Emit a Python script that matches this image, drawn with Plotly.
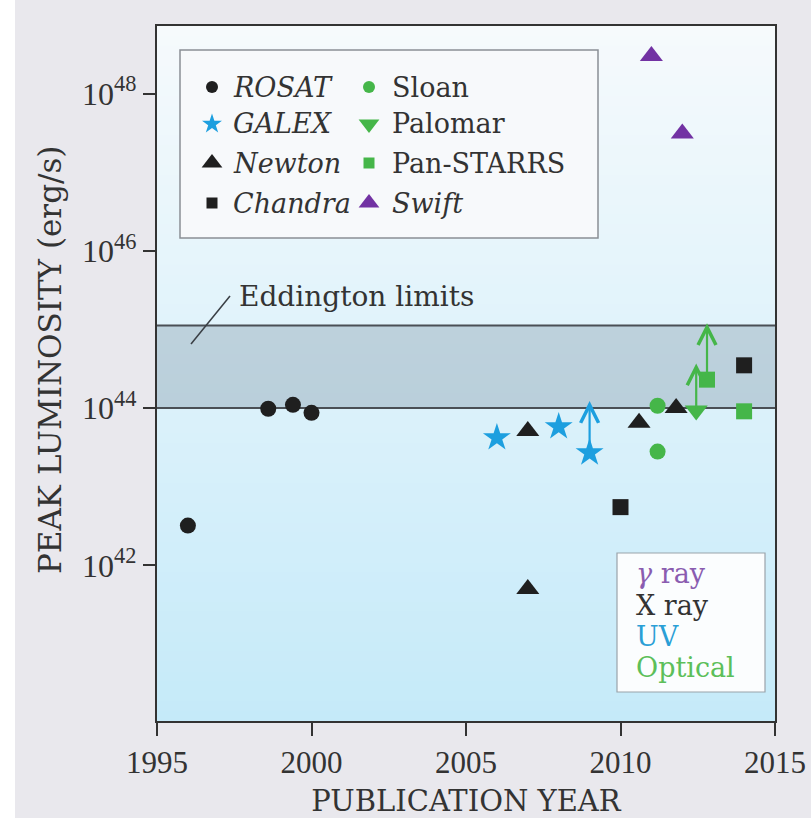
import math
import plotly.graph_objects as go

# ---- data: publication year and peak luminosity (erg/s) ----
rosat_year = [1996.0, 1998.6, 1999.4, 2000.0]
rosat_lum = [3.2e42, 9.8e43, 1.1e44, 8.7e43]

galex_year = [2006.0, 2008.0, 2009.0]
galex_lum = [4.2e43, 5.8e43, 2.7e43]

newton_year = [2007.0, 2007.0, 2010.6, 2011.8]
newton_lum = [5.1e43, 5.0e41, 6.5e43, 1.0e44]

chandra_year = [2010.0, 2014.0]
chandra_lum = [5.5e42, 3.5e44]

sloan_year = [2011.2, 2011.2]
sloan_lum = [1.07e44, 2.8e43]

palomar_year = [2012.45]
palomar_lum = [9.3e43]

panstarrs_year = [2012.8, 2014.0]
panstarrs_lum = [2.3e44, 9.1e43]

swift_year = [2011.0, 2012.0]
swift_lum = [3.0e48, 3.1e47]

# lower limits drawn as arrows: (year, measured value, arrow tip, band)
limit_year = [2009.0, 2012.45, 2012.8]
limit_from = [2.7e43, 9.3e43, 2.3e44]
limit_to = [1.23e44, 3.7e44, 1.2e45]
limit_band = ["UV", "Optical", "Optical"]

# Eddington-limit range
eddington_low = 1.0e44
eddington_high = 1.12e45

x_ticks = [1995, 2000, 2005, 2010, 2015]
y_ticks = [1e42, 1e44, 1e46, 1e48]
y_tick_text = ["10<sup>42</sup>", "10<sup>44</sup>", "10<sup>46</sup>", "10<sup>48</sup>"]

BLACK = "#1f1f1f"
BLUE = "#1d9fdf"
GREEN = "#45b649"
PURPLE = "#7232a3"
TEXT = "#333333"
FONT = "DejaVu Serif"
TICK_FONT = "Liberation Serif"
band_color = {"UV": BLUE, "Optical": GREEN}

# plot-area pixel geometry (811 x 818 canvas)
L, R, T, B = 157, 775, 26, 721
W, H = R - L, B - T


def px(x):
    return (x - L) / W


def py(y):
    return (B - y) / H


fig = go.Figure()

series = [
    (rosat_year, rosat_lum, "circle", BLACK, 16),
    (galex_year, galex_lum, "star", BLUE, 21),
    (newton_year, newton_lum, "triangle-up", BLACK, 20),
    (chandra_year, chandra_lum, "square", BLACK, 16),
    (sloan_year, sloan_lum, "circle", GREEN, 16),
    (palomar_year, palomar_lum, "triangle-down", GREEN, 20),
    (panstarrs_year, panstarrs_lum, "square", GREEN, 16),
    (swift_year, swift_lum, "triangle-up", PURPLE, 20),
]
for xs, ys, sym, col, size in series:
    fig.add_trace(go.Scatter(
        x=xs, y=ys, mode="markers", showlegend=False, hoverinfo="skip",
        marker=dict(symbol=sym, color=col, size=size, line=dict(width=0)),
    ))

# legend keys on an overlay axis spanning the plot area
legend_rows = [87, 124, 163, 203]
col1_keys = [("circle", BLACK, 12), ("star", BLUE, 15), ("triangle-up", BLACK, 18), ("square", BLACK, 11)]
col2_keys = [("circle", GREEN, 12), ("triangle-down", GREEN, 18), ("square", GREEN, 11), ("triangle-up", PURPLE, 18)]
col1_names = ["<i>ROSAT</i>", "<i>GALEX</i>", "<i>Newton</i>", "<i>Chandra</i>"]
col2_names = ["Sloan", "Palomar", "Pan-STARRS", "<i>Swift</i>"]
for kx, keys in ((212, col1_keys), (369, col2_keys)):
    for ry, (sym, col, size) in zip(legend_rows, keys):
        fig.add_trace(go.Scatter(
            x=[px(kx)], y=[py(ry)], xaxis="x2", yaxis="y2", mode="markers",
            showlegend=False, hoverinfo="skip",
            marker=dict(symbol=sym, color=col, size=size, line=dict(width=0)),
        ))

shapes = []
# soft vertical gradient behind the data
top_rgb = (246, 250, 252)
bot_rgb = (197, 234, 249)
n = 70
for i in range(n):
    t = (i + 0.5) / n
    c = tuple(round(bot_rgb[k] + (top_rgb[k] - bot_rgb[k]) * t) for k in range(3))
    shapes.append(dict(type="rect", xref="x domain", yref="y domain",
                       x0=0, x1=1, y0=i / n, y1=(i + 1) / n + 0.002,
                       fillcolor="rgb(%d,%d,%d)" % c, line=dict(width=0), layer="below"))
# Eddington band
shapes.append(dict(type="rect", xref="x domain", yref="y",
                   x0=0, x1=1, y0=eddington_low, y1=eddington_high,
                   fillcolor="rgba(90,112,132,0.26)", line=dict(width=0), layer="below"))
for v in (eddington_low, eddington_high):
    shapes.append(dict(type="line", xref="x domain", yref="y", x0=0, x1=1,
                       y0=v, y1=v,
                       line=dict(color="#4a4f55", width=2), layer="below"))
# leader line for the Eddington label
shapes.append(dict(type="line", xref="paper", yref="paper",
                   x0=px(191), y0=py(344), x1=px(230), y1=py(296),
                   line=dict(color="#3a3f45", width=1.6)))
# legend frame
shapes.append(dict(type="rect", xref="paper", yref="paper",
                   x0=px(180), x1=px(598), y0=py(238), y1=py(50),
                   fillcolor="#f7f9fb", line=dict(color="#8a8f95", width=1.5), layer="below"))
# band key frame
shapes.append(dict(type="rect", xref="paper", yref="paper",
                   x0=px(617), x1=px(765), y0=py(692), y1=py(553),
                   fillcolor="#fbfdfe", line=dict(color="#9aa3aa", width=1.2), layer="below"))
# left white edge of the page
shapes.append(dict(type="rect", xref="paper", yref="paper",
                   x0=px(0), x1=px(15), y0=py(818), y1=py(0),
                   fillcolor="white", line=dict(width=0), layer="below"))

annotations = []
for tx, names in ((231, col1_names), (390, col2_names)):
    for ry, name in zip(legend_rows, names):
        annotations.append(dict(xref="paper", yref="paper", x=px(tx), y=py(ry),
                                xanchor="left", yanchor="middle", showarrow=False,
                                text=name, font=dict(family=FONT, size=27, color=TEXT)))
annotations.append(dict(xref="paper", yref="paper", x=px(237), y=py(296),
                        xanchor="left", yanchor="middle", showarrow=False,
                        text="Eddington limits", font=dict(family=FONT, size=28, color=TEXT)))
band_lines = [("<i>γ</i> ray", "#8a5cb0", 573), ("X ray", "#333333", 605),
              ("UV", "#2a9fd6", 636), ("Optical", "#5cbf5a", 667)]
for txt, col, ry in band_lines:
    annotations.append(dict(xref="paper", yref="paper", x=px(634), y=py(ry),
                            xanchor="left", yanchor="middle", showarrow=False,
                            text=txt, font=dict(family=FONT, size=27, color=col)))
# vertical axis title
annotations.append(dict(xref="paper", yref="paper", x=px(50), y=py(360),
                        xanchor="center", yanchor="middle", showarrow=False, textangle=-90,
                        text="PEAK LUMINOSITY (erg/s)", font=dict(family=FONT, size=31, color=TEXT)))
# lower-limit arrows
for yr, lo, hi, band in zip(limit_year, limit_from, limit_to, limit_band):
    annotations.append(dict(xref="x", yref="y", axref="x", ayref="y",
                            x=yr, y=math.log10(hi), ax=yr, ay=math.log10(lo),
                            text="", showarrow=True, arrowhead=5, arrowsize=1.6,
                            arrowwidth=2.2, arrowcolor=band_color[band], standoff=0))

fig.update_layout(
    width=811, height=818,
    margin=dict(l=L, r=811 - R, t=T, b=818 - B),
    paper_bgcolor="#e9e8ed",
    plot_bgcolor="#e6f4fb",
    shapes=shapes,
    annotations=annotations,
    font=dict(family=FONT, color=TEXT),
    xaxis=dict(
        range=[1995, 2015], tickvals=x_ticks, ticks="outside", ticklen=13, tickwidth=2,
        tickcolor="#333", showline=True, linecolor="#333", linewidth=2.2, mirror=True,
        showgrid=False, zeroline=False, automargin=False,
        tickfont=dict(family=TICK_FONT, size=31, color=TEXT),
        title=dict(text="PUBLICATION YEAR", font=dict(family=FONT, size=29, color=TEXT), standoff=12),
    ),
    yaxis=dict(
        type="log", range=[40.02, 48.86], tickvals=y_ticks, ticktext=y_tick_text,
        ticks="outside", ticklen=12, tickwidth=2, tickcolor="#333",
        showline=True, linecolor="#333", linewidth=2.2, mirror=True,
        showgrid=False, zeroline=False, automargin=False,
        tickfont=dict(family=TICK_FONT, size=32, color=TEXT),
    ),
    xaxis2=dict(overlaying="x", range=[0, 1], visible=False, fixedrange=True),
    yaxis2=dict(overlaying="y", range=[0, 1], visible=False, fixedrange=True),
)

fig.write_html("out.html")
